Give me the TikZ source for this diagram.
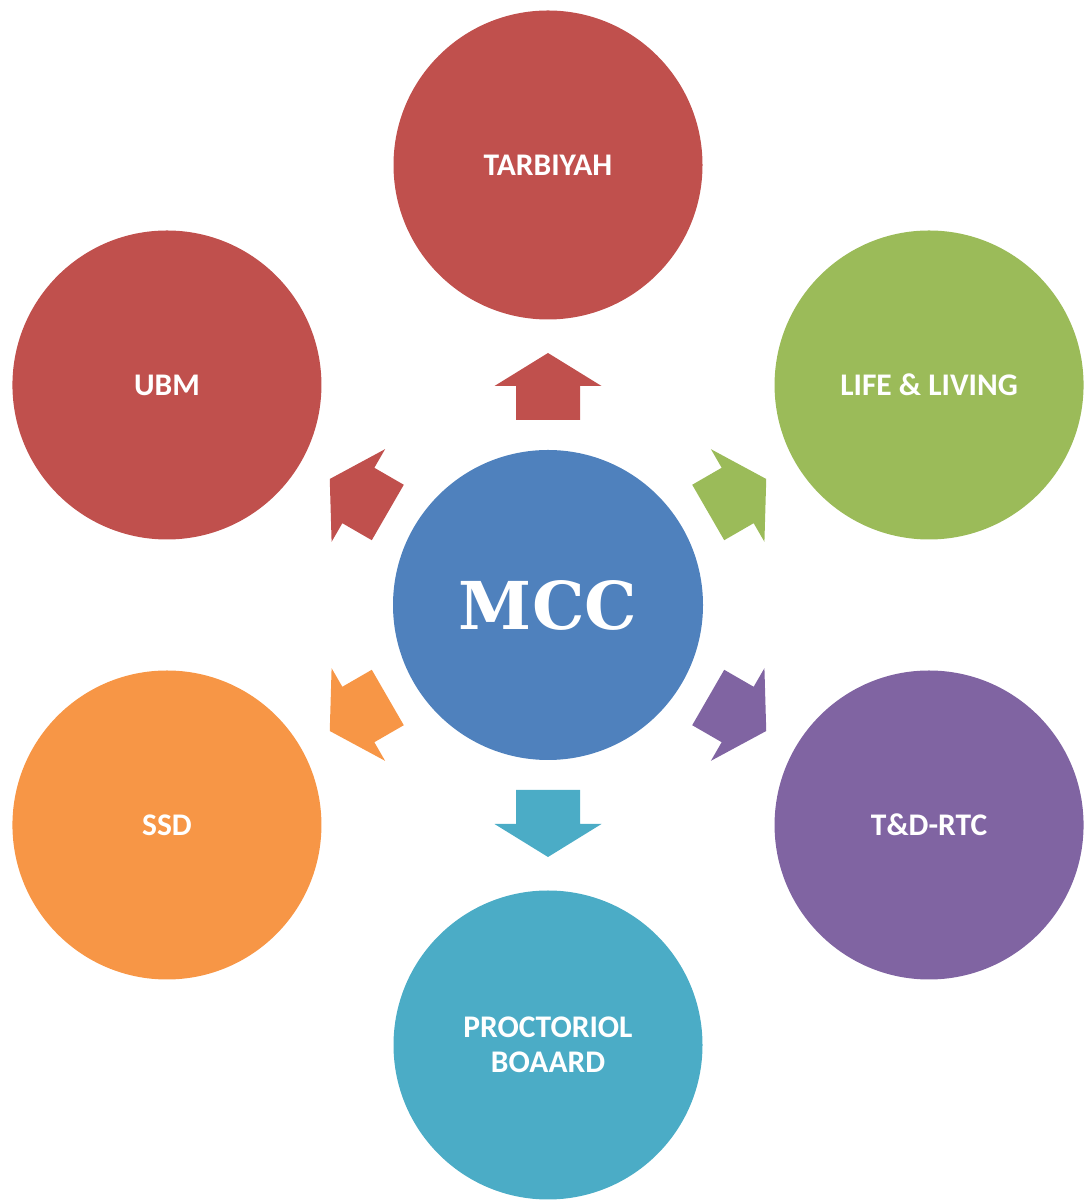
\documentclass[tikz,border=0pt]{standalone}
\usepackage{fontspec}
\usetikzlibrary{calc}
\setmainfont{Carlito}
\newfontfamily\mccfont{DejaVu Serif}
\definecolor{cred}{HTML}{C0504D}
\definecolor{cgreen}{HTML}{9BBB59}
\definecolor{cblue}{HTML}{4F81BD}
\definecolor{cpurple}{HTML}{8064A2}
\definecolor{caqua}{HTML}{4BACC6}
\definecolor{corange}{HTML}{F79646}
\begin{document}
\begin{tikzpicture}[x=1pt,y=1pt,
  bubble/.style={circle,minimum size=309pt,inner sep=0pt,text=white,
    font=\fontsize{31.5}{35}\selectfont\bfseries,align=center},
  blockarrow/.style={fill=#1}]
\useasboundingbox (0,0) rectangle (1085,1204);
\node[bubble,fill=cblue,minimum size=310pt] (m) at (548,599) {\mccfont\fontsize{66}{70}\selectfont\bfseries MCC};
\node[bubble,fill=cred]    (tar) at ($(m)+(90:440)$)  {TARBIYAH};
\node[bubble,fill=cred]    (ubm) at ($(m)+(150:440)$) {UBM};
\node[bubble,fill=cgreen]  (life) at ($(m)+(30:440)$) {LIFE \& LIVING};
\node[bubble,fill=corange] (ssd) at ($(m)+(210:440)$) {SSD};
\node[bubble,fill=cpurple] (td)  at ($(m)+(330:440)$) {T\&D-RTC};
\node[bubble,fill=caqua]   (pb)  at ($(m)+(270:440)$) {PROCTORIOL\\BOAARD};
\foreach \ang/\col in {90/cred,150/cred,30/cgreen,210/corange,330/cpurple,270/caqua}{
  \begin{scope}[shift={(m.center)},rotate=\ang]
    \fill[blockarrow=\col] (185,32) -- (219,32) -- (219,53.5) -- (252,0) -- (219,-53.5) -- (219,-32) -- (185,-32) -- cycle;
  \end{scope}
}
\end{tikzpicture}
\end{document}
